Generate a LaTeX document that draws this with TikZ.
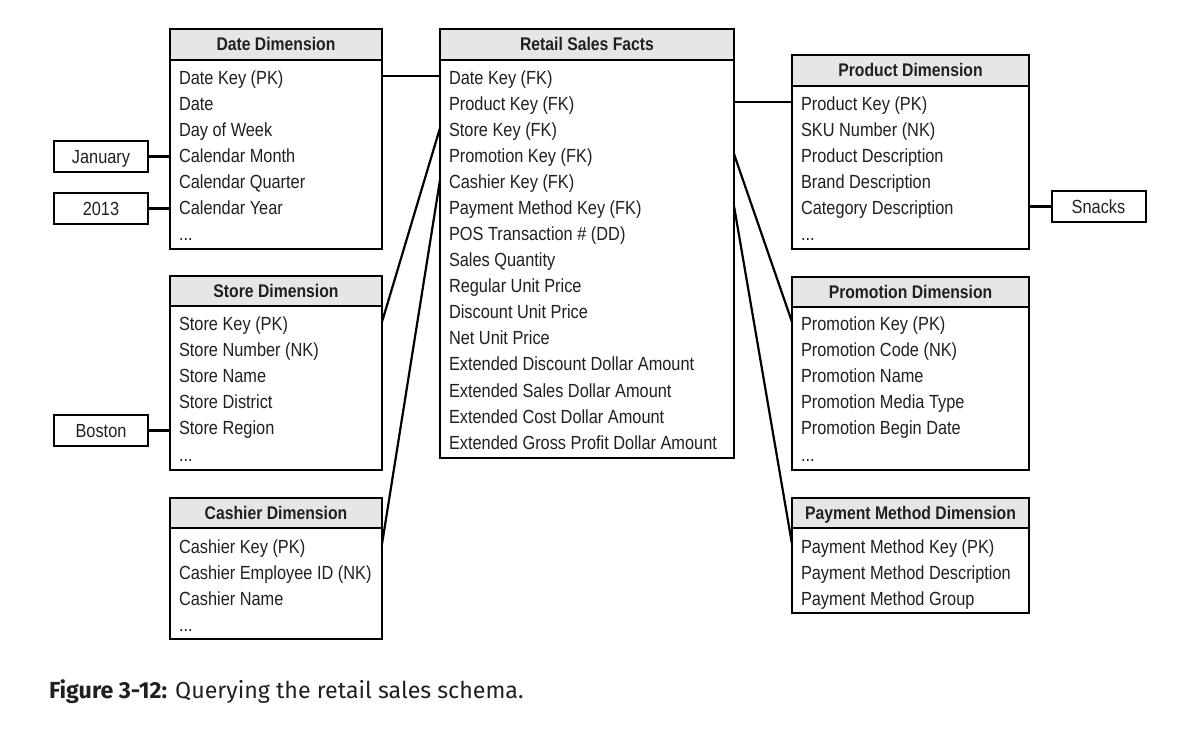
\documentclass[tikz,border=0pt]{standalone}
\usepackage{fontspec}
\setmainfont{Liberation Sans}[FakeStretch=0.86]
\newfontfamily\capfont{Fira Sans}
\definecolor{ink}{HTML}{231F20}
\definecolor{hdrgray}{HTML}{E6E6E6}
\newcommand\morerows{...}
\begin{document}
\begin{tikzpicture}[x=1pt,y=-1pt,
  every node/.style={inner sep=0pt,outer sep=0pt,text=ink,font=\fontsize{19}{22}\selectfont},
  hdr/.style={draw=black,line width=2.2pt,fill=hdrgray,anchor=north west,
    text height=13pt,text depth=0pt,font=\fontsize{18.3}{22}\selectfont\bfseries},
  tbody/.style={draw=black,line width=2.2pt,fill=white,anchor=north west},
  row/.style={anchor=base west,text height=18pt,text depth=0pt},
  tag/.style={draw=black,line width=2pt,minimum width=94pt,minimum height=31pt,
    text height=13.5pt,text depth=0pt},
  link/.style={line width=2.2pt},
  tie/.style={line width=3.6pt}]
\useasboundingbox (0,0) rectangle (1184,735);

% Date dimension
\node[tbody,minimum width=212pt,minimum height=189pt] (date) at (170,60) {};
\node[hdr,minimum width=212pt,minimum height=31pt] (dateh) at (170,29) {Date Dimension};
\foreach \t [count=\i] in {Date Key (PK),Date,Day of Week,Calendar Month,Calendar Quarter,Calendar Year,\morerows}
  \node[row] (d\i) at (179,59+26*\i) {\t};

% Fact table
\node[tbody,minimum width=294pt,minimum height=398pt] (facts) at (440,60) {};
\node[hdr,minimum width=294pt,minimum height=31pt] (factsh) at (440,29) {Retail Sales Facts};
\foreach \t [count=\i] in {Date Key (FK),Product Key (FK),Store Key (FK),Promotion Key (FK),Cashier Key (FK),Payment Method Key (FK),POS Transaction \# (DD),Sales Quantity,Regular Unit Price,Discount Unit Price,Net Unit Price,Extended Discount Dollar Amount,Extended Sales Dollar Amount,Extended Cost Dollar Amount,Extended Gross Profit Dollar Amount}
  \node[row] (f\i) at (449,59+26*\i) {\t};

% Product dimension
\node[tbody,minimum width=237pt,minimum height=163pt] (prod) at (792,86) {};
\node[hdr,minimum width=237pt,minimum height=31pt] (prodh) at (792,55) {Product Dimension};
\foreach \t [count=\i] in {Product Key (PK),SKU Number (NK),Product Description,Brand Description,Category Description,\morerows}
  \node[row] (p\i) at (801,85+26*\i) {\t};

% Store dimension
\node[tbody,minimum width=212pt,minimum height=164pt] (store) at (170,306) {};
\node[hdr,minimum width=212pt,minimum height=30pt] (storeh) at (170,276) {Store Dimension};
\foreach \t [count=\i] in {Store Key (PK),Store Number (NK),Store Name,Store District,Store Region,\morerows}
  \node[row] (s\i) at (179,305+26*\i) {\t};

% Promotion dimension
\node[tbody,minimum width=237pt,minimum height=163pt] (promo) at (792,307) {};
\node[hdr,minimum width=237pt,minimum height=30pt] (promoh) at (792,277) {Promotion Dimension};
\foreach \t [count=\i] in {Promotion Key (PK),Promotion Code (NK),Promotion Name,Promotion Media Type,Promotion Begin Date,\morerows}
  \node[row] (m\i) at (801,305+26*\i) {\t};

% Cashier dimension
\node[tbody,minimum width=212pt,minimum height=111pt] (cash) at (170,528) {};
\node[hdr,minimum width=212pt,minimum height=30pt] (cashh) at (170,498) {Cashier Dimension};
\foreach \t [count=\i] in {Cashier Key (PK),Cashier Employee ID (NK),Cashier Name,\morerows}
  \node[row] (c\i) at (179,527+26*\i) {\t};

% Payment method dimension
\node[tbody,minimum width=237pt,minimum height=85pt] (pay) at (792,528) {};
\node[hdr,minimum width=237pt,minimum height=30pt] (payh) at (792,498) {Payment Method Dimension};
\foreach \t [count=\i] in {Payment Method Key (PK),Payment Method Description,Payment Method Group}
  \node[row] (y\i) at (801,527+26*\i) {\t};

% Attribute values used as query constraints
\node[tag] (jan) at (101,156.5) {January};
\node[tag] (yr) at (101,208.5) {2013};
\node[tag] (bos) at (101,430.5) {Boston};
\node[tag] (snk) at (1098.5,206.5) {Snacks};

\draw[tie] (jan) -- (date.west |- jan);
\draw[tie] (yr) -- (date.west |- yr);
\draw[tie] (bos) -- (store.west |- bos);
\draw[tie] (snk) -- (prod.east |- snk);

% Foreign key joins
\draw[link] (date.east |- d1.west) -- (facts.west |- f1.west);
\draw[link] (facts.west |- f3.west) -- (store.east |- s1.west);
\draw[link] (facts.west |- f5.west) -- (cash.east |- c1.west);
\draw[link] (facts.east |- f2.west) -- (prod.west |- p1.west);
\draw[link] (facts.east |- f4.west) -- (promo.west |- m1.west);
\draw[link] (facts.east |- f6.west) -- (pay.west |- y1.west);

% Caption
\node[anchor=base west,font=\capfont\fontsize{23.2}{26}\selectfont] (cap) at (49,698)
  {\textbf{Figure 3-12:}\hspace{0.35em}Querying the retail sales schema.};
\end{tikzpicture}
\end{document}
